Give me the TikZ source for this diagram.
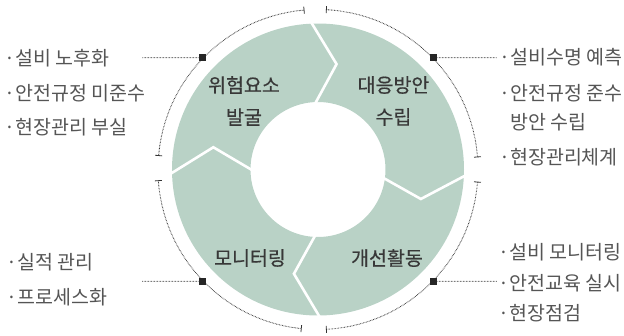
\documentclass[tikz,border=0pt]{standalone}
\usepackage{fontspec}
\setmainfont{Noto Sans CJK KR}
\newfontfamily\labfont{Noto Sans CJK KR}[FakeBold=0.5]
\definecolor{ring}{HTML}{B9D2C6}
\definecolor{ink}{HTML}{383838}
\definecolor{note}{HTML}{555555}
\newcommand\bul{\makebox[11pt][c]{·}}
\begin{document}
\begin{tikzpicture}[x=1pt, y=1pt,
  lab/.style={font=\labfont\fontsize{19.5}{32}\selectfont, text=ink, align=center},
  itm/.style={font=\fontsize{19.5}{20}\selectfont, text=note, anchor=west, inner sep=0pt},
  sq/.style={fill=black!85, minimum size=7pt, inner sep=0pt},
  dl/.style={draw=black!80, line width=0.9pt, dash pattern=on 0.6pt off 0.9pt},
  cut/.style={draw=white, line width=2.6pt, line join=miter}]
  \useasboundingbox (-318,-165.5) rectangle (306,169.5);
  % ring with chevron cuts
  \fill[ring, even odd rule] (0,0) circle (146) (0,0) circle (67.5);
  \foreach \o/\t/\i in {93/80/93, -2/-16/-7, 271/257/268, 182/168/181}
    \draw[cut] (\o:149) -- (\t:107) -- (\i:65);
  % outer dotted arcs
  \foreach \a/\b in {4.5/87, 95/175, 184/264, 273/355.5} {
    \draw[dl] (\a:160) arc (\a:\b:160);
    \draw[black!80, line width=0.8pt] (\a:156.5) -- (\a:163.5) (\b:156.5) -- (\b:163.5);
  }
  \node[lab] (risk) at (-74,68.5) {위험요소\\발굴};
  \node[lab] (plan) at (75.5,68.5) {대응방안\\수립};
  \node[lab] (mon) at (-68,-88.5) {모니터링};
  \node[lab] (act) at (69,-88.5) {개선활동};
  \node[sq] (qa) at (136:161) {};
  \node[sq] (qb) at (44:161) {};
  \node[sq] (qc) at (224:161) {};
  \node[sq] (qd) at (316:161) {};
  \coordinate (ea) at (-176,111.8);
  \coordinate (eb) at (179,111.8);
  \coordinate (ec) at (-176,-111.8);
  \coordinate (ed) at (179,-111.8);
  \foreach \n in {a,b,c,d} \draw[dl] (q\n) -- (e\n);
  % notes
  \node[itm] (a1) at (-313.5,111.5) {\bul 설비 노후화};
  \node[itm] (a2) at (-313.5,76.5) {\bul 안전규정 미준수};
  \node[itm] (a3) at (-313.5,42.5) {\bul 현장관리 부실};
  \node[itm] (b1) at (181,112.5) {\bul 설비수명 예측};
  \node[itm] (b2) at (181,76.5) {\bul 안전규정 준수};
  \node[itm] (b2x) at (181,47.5) {\phantom{\bul}방안 수립};
  \node[itm] (b3) at (181,12.5) {\bul 현장관리체계};
  \node[itm] (c1) at (-311.5,-92.5) {\bul 실적 관리};
  \node[itm] (c2) at (-311.5,-127.5) {\bul 프로세스화};
  \node[itm] (d1) at (180.5,-82.5) {\bul 설비 모니터링};
  \node[itm] (d2) at (180.5,-113.5) {\bul 안전교육 실시};
  \node[itm] (d3) at (180.5,-143.5) {\bul 현장점검};
\end{tikzpicture}
\end{document}
